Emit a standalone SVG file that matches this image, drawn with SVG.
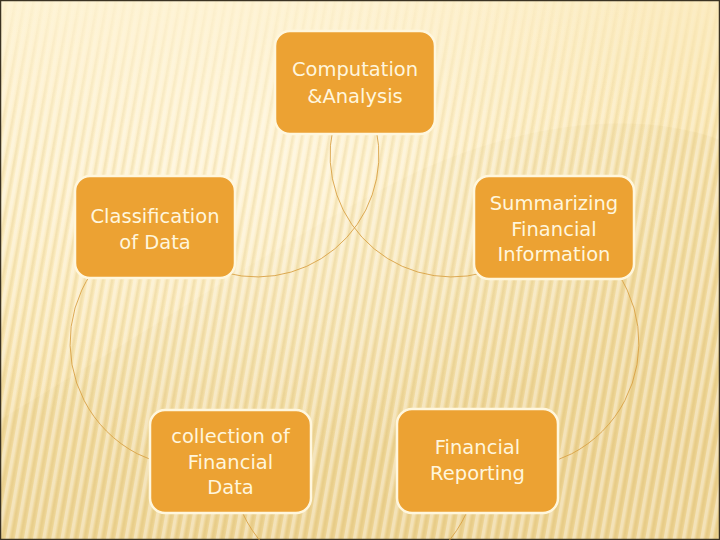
<svg xmlns="http://www.w3.org/2000/svg" width="720" height="540" viewBox="0 0 720 540">
  <defs>
    <linearGradient id="bg" x1="0" y1="0" x2="0.3" y2="1">
      <stop offset="0" stop-color="#FEF2D0"/>
      <stop offset="0.45" stop-color="#FAE7B4"/>
      <stop offset="1" stop-color="#EFD595"/>
    </linearGradient>
    <radialGradient id="glow" cx="0.35" cy="0.25" r="0.6">
      <stop offset="0" stop-color="#FFF6DC" stop-opacity="0.8"/>
      <stop offset="1" stop-color="#FFF6DC" stop-opacity="0"/>
    </radialGradient>
    <pattern id="stripes" width="9" height="540" patternUnits="userSpaceOnUse" patternTransform="rotate(10)">
      <rect x="0" y="0" width="3.5" height="540" fill="#FFFFFF" opacity="0.35"/>
      <rect x="5" y="0" width="2.5" height="540" fill="#C9A24A" opacity="0.14"/>
    </pattern>
    <linearGradient id="stripefade" x1="0" y1="0" x2="0" y2="1">
      <stop offset="0" stop-color="#fff" stop-opacity="0.2"/>
      <stop offset="0.3" stop-color="#fff" stop-opacity="1"/>
      <stop offset="1" stop-color="#fff" stop-opacity="1"/>
    </linearGradient>
    <mask id="m">
      <rect width="720" height="540" fill="url(#stripefade)"/>
    </mask>
  </defs>
  <style>
    .box { fill: #ECA233; stroke: #FFF7DE; stroke-width: 2.5; }
    .lbl { font-family: "DejaVu Sans", "Liberation Sans", sans-serif; font-size: 19.5px; fill: #FFF6DD; text-anchor: middle; }
    .arc { fill: none; stroke: #D9A245; stroke-width: 0.9; }
  </style>

  <rect width="720" height="540" fill="url(#bg)"/>
  <path d="M400 180 C 520 120, 640 110, 720 140 L720 540 L0 540 L0 420 C 150 330, 300 230, 400 180 Z" fill="#E9CF8E" opacity="0.25"/>
  <rect width="720" height="540" fill="url(#glow)"/>
  <rect width="720" height="540" fill="url(#stripes)" mask="url(#m)"/>
  <rect x="0.5" y="0.5" width="719" height="539" fill="none" stroke="#3A3222" stroke-width="1.5"/>

  <g id="connectors">
    <path class="arc" d="M337.4 113.3 A122 122 0 0 0 483.6 272.8"/>
    <path class="arc" d="M371.6 113.3 A122 122 0 0 1 225.4 272.8"/>
    <path class="arc" d="M132.5 234.7 A125 125 0 0 0 173.3 466"/>
    <path class="arc" d="M576.5 234.7 A125 125 0 0 1 535.7 466"/>
    <path class="arc" d="M235.7 493.8 A123 123 0 0 0 473.3 493.8"/>
  </g>

  <g id="node-computation">
    <rect class="box" x="275" y="31" width="160" height="103" rx="15"/>
    <text class="lbl" x="355" y="76">Computation</text>
    <text class="lbl" x="355" y="103">&amp;Analysis</text>
  </g>
  <g id="node-classification">
    <rect class="box" x="75" y="176" width="160" height="102" rx="15"/>
    <text class="lbl" x="155" y="223">Classification</text>
    <text class="lbl" x="155" y="249">of Data</text>
  </g>
  <g id="node-summarizing">
    <rect class="box" x="474" y="176" width="160" height="103" rx="15"/>
    <text class="lbl" x="554" y="210">Summarizing</text>
    <text class="lbl" x="554" y="236">Financial</text>
    <text class="lbl" x="554" y="261">Information</text>
  </g>
  <g id="node-collection">
    <rect class="box" x="150" y="410" width="161" height="103" rx="15"/>
    <text class="lbl" x="230.5" y="443">collection of</text>
    <text class="lbl" x="230.5" y="469">Financial</text>
    <text class="lbl" x="230.5" y="494">Data</text>
  </g>
  <g id="node-reporting">
    <rect class="box" x="397" y="409" width="161" height="104" rx="15"/>
    <text class="lbl" x="477.5" y="454">Financial</text>
    <text class="lbl" x="477.5" y="480">Reporting</text>
  </g>
</svg>
